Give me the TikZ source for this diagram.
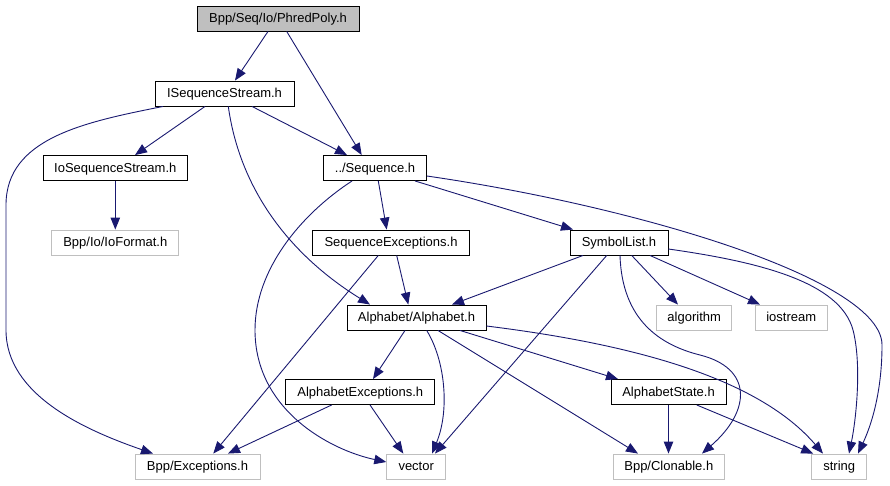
\documentclass[tikz,border=0pt]{standalone}
\usepackage{fontspec}
\setmainfont{Liberation Sans}
\usetikzlibrary{arrows.meta}
\definecolor{edgec}{HTML}{191970}
\definecolor{grayb}{HTML}{BFBFBF}
\begin{document}
\begin{tikzpicture}[x=1pt,y=-1pt,
  font=\fontsize{13}{15}\selectfont,
  box/.style={draw=black,line width=0.9pt,inner sep=0pt,minimum height=25pt,
    text height=10pt,text depth=2pt,anchor=center},
  ext/.style={box,draw=grayb},
  root/.style={box,fill=grayb},
  edge/.style={draw=edgec,line width=0.9pt,-{Triangle[length=12pt,width=9.5pt]}}]
\useasboundingbox (0,0) rectangle (890,485);
% nodes
\node[root,minimum width=162pt] (phred) at (278,18.5) {Bpp/Seq/Io/PhredPoly.h};
\node[box,minimum width=139pt] (iss) at (224.5,93.5) {ISequenceStream.h};
\node[box,minimum width=144pt] (ioss) at (115.3,168) {IoSequenceStream.h};
\node[ext,minimum width=127pt] (iof) at (115.3,242.5) {Bpp/Io/IoFormat.h};
\node[box,minimum width=103pt] (seq) at (375,168) {../Sequence.h};
\node[box,minimum width=157pt] (seqex) at (391,242.5) {SequenceExceptions.h};
\node[box,minimum width=98pt] (sym) at (619,242.5) {SymbolList.h};
\node[box,minimum width=139pt] (alpha) at (416.5,317.5) {Alphabet/Alphabet.h};
\node[ext,minimum width=75pt] (algo) at (694.2,317.5) {algorithm};
\node[ext,minimum width=72pt] (iostr) at (791.2,317.5) {iostream};
\node[box,minimum width=149pt] (alex) at (360.3,392) {AlphabetExceptions.h};
\node[box,minimum width=115pt] (ast) at (668.5,392) {AlphabetState.h};
\node[ext,minimum width=125pt] (bex) at (197.5,466.5) {Bpp/Exceptions.h};
\node[ext,minimum width=59pt] (vec) at (416.2,466.5) {vector};
\node[ext,minimum width=111pt] (clon) at (668.8,466.5) {Bpp/Clonable.h};
\node[ext,minimum width=55pt] (str) at (839.2,466.5) {string};
% edges
\draw[edge] ([xshift=-10pt]phred.south) -- ([xshift=10.5pt]iss.north);
\draw[edge] ([xshift=8.7pt]phred.south) -- ([xshift=-13.3pt]seq.north);
\draw[edge] ([xshift=-19.5pt]iss.south) -- ([xshift=19.7pt]ioss.north);
\draw[edge] ([xshift=27.5pt]iss.south) -- ([xshift=-28pt]seq.north);
\draw[edge] ([xshift=3.8pt]iss.south) .. controls (240,190) and (290,255) .. ([xshift=-46.5pt]alpha.north);
\draw[edge] ([xshift=-61.5pt]iss.south) .. controls (85,122) and (6,138) .. (6,205) -- (6,330)
   .. controls (6,395) and (85,430) .. ([xshift=-44.5pt]bex.north);
\draw[edge] ([xshift=3.3pt]seq.south) -- ([xshift=-4.3pt]seqex.north);
\draw[edge] ([xshift=40pt]seq.south) -- ([xshift=-46pt]sym.north);
\draw[edge] ([yshift=-8pt]seq.east) .. controls (640,207) and (882,280) .. (882,345)
   .. controls (882,395) and (870,428) .. ([xshift=18.8pt]str.north);
\draw[edge] ([xshift=-23pt]seq.south) .. controls (300,215) and (255,270) .. (255,330)
   .. controls (255,410) and (330,450) .. ([yshift=4.5pt]vec.west);
\draw[edge] (ioss.south) -- (iof.north);
\draw[edge] ([xshift=5.7pt]seqex.south) -- ([xshift=-8.2pt]alpha.north);
\draw[edge] ([xshift=-12.7pt]seqex.south) -- ([xshift=15.8pt]bex.north);
\draw[edge] ([xshift=-36pt]sym.south) -- ([xshift=35.5pt]alpha.north);
\draw[edge] ([xshift=12.7pt]sym.south) -- ([xshift=-16.2pt]algo.north);
\draw[edge] ([xshift=31pt]sym.south) -- ([xshift=-31.2pt]iostr.north);
\draw[edge] ([xshift=-12.3pt]sym.south) -- ([xshift=18.8pt]vec.north);
\draw[edge] ([xshift=1pt]sym.south) .. controls (622,320) and (660,345) .. (700,355)
   .. controls (752,368) and (752,410) .. ([xshift=33.2pt]clon.north);
\draw[edge] ([yshift=-6.5pt]sym.east) .. controls (760,262) and (840,282) .. (853,330)
   .. controls (862,365) and (856,420) .. ([xshift=9.8pt]str.north);
\draw[edge] ([xshift=-11.5pt]alpha.south) -- ([xshift=12.7pt]alex.north);
\draw[edge] ([xshift=10.2pt]alpha.south) .. controls (445,360) and (450,410) .. ([xshift=15.8pt]vec.north);
\draw[edge] ([xshift=43.5pt]alpha.south) -- ([xshift=-50.5pt]ast.north);
\draw[edge] ([xshift=21.5pt]alpha.south) -- ([xshift=-30.8pt]clon.north);
\draw[edge] ([yshift=-8.5pt]alpha.east) .. controls (640,345) and (760,380) .. ([xshift=-16.2pt]str.north);
\draw[edge] ([xshift=-28.6pt]alex.south) -- ([xshift=30.5pt]bex.north);
\draw[edge] ([xshift=9.7pt]alex.south) -- ([xshift=-12.9pt]vec.north);
\draw[edge] (ast.south) -- (ast.south |- clon.north);
\draw[edge] ([xshift=28.2pt]ast.south) -- ([xshift=-26pt]str.north);
\end{tikzpicture}
\end{document}
